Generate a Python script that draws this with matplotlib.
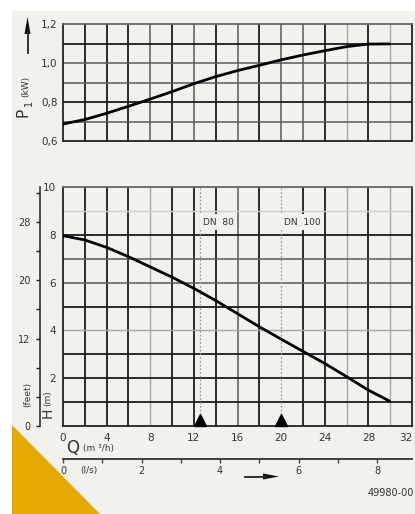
import matplotlib
matplotlib.use("Agg")
import matplotlib.pyplot as plt
from matplotlib.patches import Polygon, Rectangle
from matplotlib.lines import Line2D

plt.rcParams['font.family'] = ['Liberation Sans Narrow', 'DejaVu Sans']

# ---------------- data ----------------
q_flow = [0, 2, 4, 6, 8, 10, 12, 14, 16, 18, 20, 22, 24, 26, 28, 30]
p_power = [0.687, 0.71, 0.742, 0.778, 0.815, 0.853, 0.894, 0.930, 0.961, 0.988,
           1.016, 1.041, 1.063, 1.084, 1.097, 1.098]
h_head = [7.97, 7.79, 7.48, 7.09, 6.66, 6.23, 5.76, 5.25, 4.70, 4.15,
          3.63, 3.12, 2.61, 2.06, 1.49, 1.02]
q_ticks = [0, 4, 8, 12, 16, 20, 24, 28, 32]
p_ticks = [0.6, 0.8, 1.0, 1.2]
p_tick_labels = ["0,6", "0,8", "1,0", "1,2"]
h_ticks = [2, 4, 6, 8, 10]
ft_major = [0, 12, 20, 28]
ft_minor = [4, 8, 16, 24, 32]
ls_major = [0, 2, 4, 6, 8]
ls_minor = [1, 3, 5, 7]
dn_q = [12.6, 20.0]
dn_labels = ["DN  80", "DN  100"]

W, H = 415, 514
BG = '#f2f1ee'
fig = plt.figure(figsize=(W / 100, H / 100), dpi=100)
fig.patch.set_facecolor('white')


def fx(x):
    return x / W


def fy(y):
    return 1 - y / H


# background panel and orange corner
fig.add_artist(Rectangle((fx(12), 0), 1 - fx(12), fy(11), transform=fig.transFigure,
                         facecolor=BG, edgecolor='none', zorder=-10))
fig.add_artist(Polygon([(fx(12), fy(425)), (fx(12), 0), (fx(100), 0)], closed=True,
                       transform=fig.transFigure, facecolor='#e6a900', edgecolor='none', zorder=-5))

DARK = ('#1c1c1c', 1.3)
MED = ('#5a5a5a', 1.1)
LIGHT = ('#a8a8a8', 1.0)

vgrid_top = {2: DARK, 4: DARK, 6: DARK, 8: MED, 10: DARK, 12: MED, 14: DARK, 16: MED,
             18: DARK, 20: MED, 22: MED, 24: DARK, 26: LIGHT, 28: DARK, 30: LIGHT}
vgrid_bot = {2: DARK, 4: DARK, 6: DARK, 8: LIGHT, 10: DARK, 12: DARK, 14: DARK, 16: MED,
             18: DARK, 22: DARK, 24: DARK, 26: LIGHT, 28: DARK, 30: LIGHT}
hgrid_top = {0.7: MED, 0.8: DARK, 0.9: MED, 1.0: MED, 1.1: DARK}
hgrid_bot = {1: DARK, 2: DARK, 3: DARK, 4: LIGHT, 5: DARK, 6: MED, 7: MED, 8: DARK, 9: ('#cfcfcf', 1.0)}

ax_left = fx(63)
ax_w = (412 - 63) / W

# ---------------- top axes (power) ----------------
ax1 = fig.add_axes([ax_left, fy(141), ax_w, (141 - 24) / H])
ax1.set_facecolor(BG)
ax1.set_xlim(0, 32)
ax1.set_ylim(0.6, 1.2)
for q, (c, lw) in vgrid_top.items():
    ax1.axvline(q, color=c, lw=lw, zorder=1)
for p, (c, lw) in hgrid_top.items():
    ax1.axhline(p, color=c, lw=lw, zorder=1)
ax1.plot(q_flow, p_power, color='black', lw=2.0, zorder=3, solid_capstyle='butt')
ax1.set_xticks([])
ax1.set_yticks(p_ticks)
ax1.set_yticklabels(p_tick_labels, fontsize=7.5, color='#333')
ax1.tick_params(axis='y', length=0, pad=4)
for s in ax1.spines.values():
    s.set_color('#222')
    s.set_linewidth(1.3)
ax1.spines['top'].set_color('#666')

# ---------------- bottom axes (head) ----------------
ax2 = fig.add_axes([ax_left, fy(425.7), ax_w, (425.7 - 187.3) / H])
ax2.set_facecolor(BG)
ax2.set_xlim(0, 32)
ax2.set_ylim(0, 10)
for q, (c, lw) in vgrid_bot.items():
    ax2.axvline(q, color=c, lw=lw, zorder=1)
for h, (c, lw) in hgrid_bot.items():
    ax2.axhline(h, color=c, lw=lw, zorder=1)
for q in dn_q:
    ax2.axvline(q, color='#9a9a9a', lw=0.9, ls=(0, (1.5, 1.5)), zorder=2)
ax2.plot(q_flow, h_head, color='black', lw=2.0, zorder=3, solid_capstyle='butt')
ax2.plot(dn_q, [0.22, 0.22], ls='none', marker='^', markersize=9, color='black',
         zorder=4, clip_on=False)
for q, lab in zip(dn_q, dn_labels):
    ax2.text(q + 0.25, 8.35, lab, fontsize=6.5, color='#333', ha='left', va='bottom',
             zorder=5, bbox=dict(facecolor=BG, edgecolor='none', pad=2.5))
ax2.set_xticks(q_ticks)
ax2.set_xticklabels([str(v) for v in q_ticks], fontsize=7.5, color='#333')
ax2.get_xticklabels()[-1].set_horizontalalignment('right')
ax2.tick_params(axis='x', length=0, pad=5)
ax2.set_yticks(h_ticks)
ax2.set_yticklabels([str(v) for v in h_ticks], fontsize=7.5, color='#333')
ax2.tick_params(axis='y', length=0, pad=5)
for s in ax2.spines.values():
    s.set_color('#222')
    s.set_linewidth(1.3)
ax2.spines['top'].set_color('#666')

# feet axis
ft_loc = (40 - 63) / (412 - 63)
axf = ax2.secondary_yaxis(ft_loc, functions=(lambda m: m / 0.3048, lambda f: f * 0.3048))
axf.set_yticks(ft_major)
axf.set_yticklabels([str(v) for v in ft_major], fontsize=7, color='#333')
axf.set_yticks(ft_minor, minor=True)
axf.tick_params(axis='y', which='both', direction='out', length=3, width=1, color='#222', pad=4)
axf.spines['left'].set_color('#222')
axf.spines['left'].set_linewidth(1.1)

# l/s axis
ls_loc = (425.7 - 459) / (425.7 - 187.3)
axl = ax2.secondary_xaxis(ls_loc, functions=(lambda q: q / 3.6, lambda l: l * 3.6))
axl.set_xticks(ls_major)
axl.set_xticklabels([str(v) for v in ls_major], fontsize=7, color='#333')
axl.set_xticks(ls_minor, minor=True)
axl.tick_params(axis='x', which='both', direction='out', length=3, width=1, color='#444', pad=2)
axl.spines['bottom'].set_color('#222')
axl.spines['bottom'].set_linewidth(1.2)

# ---------------- labels ----------------
fig.text(fx(23), fy(112), 'P', rotation=90, fontsize=11, color='#333', ha='center', va='center')
fig.text(fx(29), fy(103), '1', rotation=90, fontsize=7, color='#333', ha='center', va='center')
fig.text(fx(26), fy(86), '(kW)', rotation=90, fontsize=6.5, color='#333', ha='center', va='center')
fig.add_artist(Line2D([fx(27.5), fx(27.5)], [fy(53), fy(30)], transform=fig.transFigure,
                      color='#222', lw=1.3))
fig.add_artist(Polygon([(fx(27.5), fy(17)), (fx(24.5), fy(34)), (fx(30.5), fy(34))], closed=True,
                       transform=fig.transFigure, facecolor='#111', edgecolor='none'))

fig.text(fx(28), fy(394), '(feet)', rotation=90, fontsize=6.5, color='#333', ha='center', va='center')
fig.text(fx(48), fy(413), 'H', rotation=90, fontsize=10, color='#333', ha='center', va='center')
fig.text(fx(48), fy(398), '(m)', rotation=90, fontsize=6.5, color='#333', ha='center', va='center')

fig.text(fx(66), fy(448), 'Q', fontsize=12, color='#333', ha='left', va='center')
fig.text(fx(83), fy(449), '(m ³/h)', fontsize=6.5, color='#333', ha='left', va='center')
fig.text(fx(80), fy(470), '(l/s)', fontsize=6.5, color='#333', ha='left', va='center')

fig.add_artist(Line2D([fx(245), fx(266)], [fy(476.5), fy(476.5)], transform=fig.transFigure,
                      color='#222', lw=1.3))
fig.add_artist(Polygon([(fx(279), fy(476.5)), (fx(263), fy(473.5)), (fx(263), fy(479.5))], closed=True,
                       transform=fig.transFigure, facecolor='#111', edgecolor='none'))

fig.text(fx(414), fy(493), '49980-00', fontsize=7, color='#333', ha='right', va='center')

fig.savefig('out.png', dpi=100, facecolor=fig.get_facecolor())
